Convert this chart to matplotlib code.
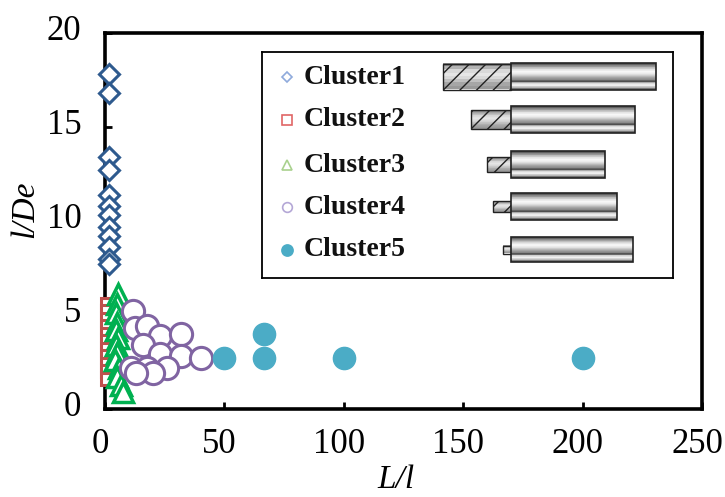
import numpy as np
import matplotlib
matplotlib.use('Agg')
import matplotlib.pyplot as plt
from matplotlib.patches import Rectangle
from matplotlib.transforms import ScaledTranslation

plt.rcParams['font.family'] = ['Liberation Serif', 'DejaVu Serif']

# data
c1_x = [1.5, 1.5, 1.5, 1.5, 1.5, 1.5, 1.5, 1.5, 1.5, 1.5, 1.5, 1.5]
c1_y = [17.8, 16.8, 13.4, 12.7, 11.4, 10.8, 10.3, 9.7, 9.2, 8.6, 8.0, 7.7]

c2_x = [0.8, 0.8, 0.8, 0.8, 0.8, 0.8, 0.8, 0.8, 0.8, 0.8, 0.8]
c2_y = [5.6, 5.2, 4.8, 4.4, 4.0, 3.6, 3.2, 2.8, 2.4, 2.0, 1.6]

c3_x = [5.4, 5.0, 4.6, 5.2, 4.4, 5.6, 4.6, 5.2, 4.2, 6.0, 5.0, 6.6, 7.4]
c3_y = [6.1, 5.6, 5.1, 4.6, 4.2, 3.8, 3.4, 3.0, 2.6, 2.2, 1.7, 1.3, 0.9]

c4_x = [11.7, 12.6, 17.5, 23, 32, 16, 23, 32, 40, 11, 17.5, 26, 20, 13]
c4_y = [5.2, 4.3, 4.4, 3.9, 4.0, 3.4, 2.9, 2.8, 2.7, 2.2, 2.2, 2.2, 1.9, 1.9]

c5_x = [50, 66.5, 66.5, 100, 200]
c5_y = [2.7, 2.7, 4.0, 2.7, 2.7]

clusters = ['Cluster1', 'Cluster2', 'Cluster3', 'Cluster4', 'Cluster5']
x_ticks = [0, 50, 100, 150, 200, 250]
y_ticks = [0, 5, 10, 15, 20]

# fibre icons in the legend (pixel lengths)
hatch_len = [68, 40, 24, 18, 8]
hatch_h = [26, 19, 15, 11, 8]
cyl_len = [145, 124, 94, 106, 122]
cyl_h = [27, 27, 27, 27, 25]

fig = plt.figure(figsize=(7.25, 4.97), dpi=100)
ax = fig.add_axes([105/725, 1-409/497, 597/725, 376/497])

ax.plot(c2_x, c2_y, 's', ms=9, mfc='white', mec='#C0504D', mew=2.2, clip_on=False, zorder=3)
ax.plot(c3_x, c3_y, '^', ms=14, mfc='white', mec='#00B050', mew=2.5, clip_on=False, zorder=4)
ax.plot(c4_x, c4_y, 'o', ms=16, mfc='white', mec='#8064A2', mew=2.2, clip_on=False, zorder=5)
ax.plot(c5_x, c5_y, 'o', ms=16, mfc='#4BACC6', mec='#4BACC6', clip_on=False, zorder=5)
ax.plot(c1_x, c1_y, 'D', ms=10.5, mfc='white', mec='#2E5A8E', mew=2.2, clip_on=False, zorder=6)

ax.set_xlim(0, 250)
ax.set_ylim(0, 20)
ax.set_xticks(x_ticks)
ax.set_yticks(y_ticks)
for s in ax.spines.values():
    s.set_linewidth(2.6)
ax.tick_params(direction='in', length=5, width=2, labelsize=25)
ax.tick_params(axis='x', pad=14)
ax.tick_params(axis='y', pad=17)
for lab in ax.get_yticklabels():
    lab.set_transform(lab.get_transform() + ScaledTranslation(0, 5/100, fig.dpi_scale_trans))
for lab in ax.get_xticklabels():
    lab.set_transform(lab.get_transform() + ScaledTranslation(-5/100, 0, fig.dpi_scale_trans))

ax.set_ylabel('l/De', fontsize=24, style='italic')
ax.yaxis.label.set_va('center')
ax.yaxis.set_label_coords(-0.134, 0.532)
ax.set_xlabel('L/l', fontsize=24, style='italic')
ax.xaxis.label.set_va('top')
ax.xaxis.set_label_coords(0.487, -0.148)

# legend box drawn by hand
lg = fig.add_axes([262/725, 1-278/497, 411/725, 226/497])
lg.set_xticks([])
lg.set_yticks([])
for s in lg.spines.values():
    s.set_linewidth(1.3)

rows = [77, 120, 165, 207, 250]
leg_marks = [('D', '#8FAADC', 'white', 5), ('s', '#E06666', 'white', 7),
             ('^', '#A9D18E', 'white', 7), ('o', '#B4A7D6', 'white', 7),
             ('o', '#4BACC6', '#4BACC6', 8)]
for name, yy, (m, ec, fc, ms) in zip(clusters, rows, leg_marks):
    lg.plot([287], [yy], m, ms=ms, mec=ec, mfc=fc, mew=1.2)
    lg.text(304, yy, name, fontsize=20, fontweight='bold', va='center', ha='left', color='#111111')

cyl_prof = np.array([0.35, 0.55, 0.75, 0.9, 0.97, 0.92, 0.8, 0.65, 0.55, 0.3, 0.85, 0.95, 0.75, 0.4])
hat_prof = np.array([0.55, 0.7, 0.85, 0.9, 0.85, 0.75, 0.65, 0.6])
joint = 511
for yy, hl, hh, cl, ch in zip(rows, hatch_len, hatch_h, cyl_len, cyl_h):
    yc = yy - 0.5
    lg.imshow(hat_prof[:, None], cmap='gray', vmin=0, vmax=1, aspect='auto',
              extent=[joint - hl, joint, yc + hh/2, yc - hh/2], zorder=2)
    lg.add_patch(Rectangle((joint - hl, yc - hh/2), hl, hh, fill=False, hatch='//',
                           edgecolor='#222222', lw=1, zorder=3))
    lg.imshow(cyl_prof[:, None], cmap='gray', vmin=0, vmax=1, aspect='auto',
              extent=[joint, joint + cl, yc + ch/2, yc - ch/2], zorder=4)
    lg.add_patch(Rectangle((joint, yc - ch/2), cl, ch, fill=False,
                           edgecolor='#222222', lw=1.2, zorder=5))
lg.set_xlim(262, 673)
lg.set_ylim(278, 52)

fig.savefig('out.png', dpi=100)
